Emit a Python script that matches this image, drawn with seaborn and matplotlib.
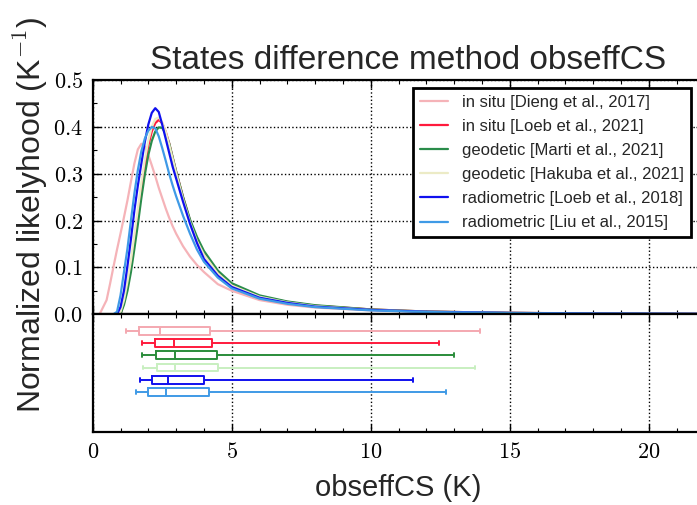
import numpy as np
import pandas as pd
import matplotlib
matplotlib.use("Agg")
import matplotlib.pyplot as plt
from matplotlib.ticker import MultipleLocator, FuncFormatter
import seaborn as sns

# ---------------- data ----------------
labels = [
    "in situ [Dieng et al., 2017]",
    "in situ [Loeb et al., 2021]",
    "geodetic [Marti et al., 2021]",
    "geodetic [Hakuba et al., 2021]",
    "radiometric [Loeb et al., 2018]",
    "radiometric [Liu et al., 2015]",
]

x_grid = [0, 0.25, 0.5, 0.625, 0.75, 0.875, 1.0, 1.125, 1.25, 1.375, 1.5, 1.625,
          1.75, 1.875, 2.0, 2.125, 2.25, 2.375, 2.5, 2.625, 2.75, 2.875, 3.0,
          3.25, 3.5, 3.75, 4.0, 4.5, 5, 6, 7, 8, 10, 12, 15, 18, 22]

pdf_dieng = [0, 0, 0.03, 0.065, 0.102, 0.138, 0.172, 0.207, 0.243, 0.283, 0.322, 0.352,
             0.364, 0.358, 0.340, 0.318, 0.295, 0.27, 0.248, 0.226, 0.206, 0.188, 0.172,
             0.145, 0.123, 0.105, 0.09, 0.064, 0.05, 0.03, 0.02, 0.014, 0.008, 0.005,
             0.0028, 0.0015, 0.0007]
pdf_loeb21 = [0, 0, 0, 0, 0, 0, 0, 0.025, 0.06, 0.10, 0.155, 0.205,
              0.265, 0.318, 0.36, 0.39, 0.408, 0.415, 0.408, 0.39, 0.365, 0.335, 0.305,
              0.25, 0.2, 0.16, 0.13, 0.089, 0.063, 0.038, 0.026, 0.018, 0.010, 0.0055,
              0.0027, 0.0013, 0.0005]
pdf_marti = [0, 0, 0, 0, 0, 0, 0, 0.02, 0.05, 0.09, 0.14, 0.192,
             0.248, 0.298, 0.34, 0.37, 0.39, 0.399, 0.398, 0.385, 0.365, 0.335, 0.305,
             0.25, 0.202, 0.165, 0.135, 0.093, 0.066, 0.04, 0.027, 0.019, 0.010, 0.0055,
             0.0027, 0.0013, 0.0005]
pdf_hakuba = [0, 0, 0, 0, 0, 0, 0.005, 0.03, 0.07, 0.115, 0.17, 0.225,
              0.28, 0.33, 0.37, 0.40, 0.417, 0.42, 0.41, 0.39, 0.362, 0.332, 0.302,
              0.245, 0.196, 0.156, 0.127, 0.087, 0.061, 0.037, 0.025, 0.017, 0.009, 0.005,
              0.0025, 0.0012, 0.0005]
pdf_loeb18 = [0, 0, 0, 0, 0, 0, 0.015, 0.05, 0.103, 0.16, 0.222, 0.275,
              0.322, 0.368, 0.405, 0.43, 0.44, 0.432, 0.405, 0.375, 0.345, 0.315, 0.29,
              0.24, 0.193, 0.152, 0.118, 0.082, 0.058, 0.035, 0.024, 0.016, 0.009, 0.005,
              0.0025, 0.0012, 0.0005]
pdf_liu = [0, 0, 0, 0, 0, 0.005, 0.04, 0.09, 0.14, 0.20, 0.258, 0.308,
           0.348, 0.375, 0.392, 0.40, 0.397, 0.38, 0.355, 0.328, 0.30, 0.275, 0.252,
           0.21, 0.172, 0.138, 0.112, 0.078, 0.055, 0.033, 0.022, 0.015, 0.008, 0.0045,
           0.0022, 0.001, 0.0004]

# five-number summaries (min, q1, median, q3, max)
box_dieng = [1.19, 1.67, 2.43, 4.23, 13.92]
box_loeb21 = [1.78, 2.25, 2.91, 4.30, 12.46]
box_marti = [1.78, 2.29, 2.96, 4.47, 12.99]
box_hakuba = [1.81, 2.30, 2.95, 4.50, 13.74]
box_loeb18 = [1.69, 2.12, 2.72, 4.02, 11.52]
box_liu = [1.57, 2.00, 2.65, 4.19, 12.72]

xticks = [0, 5, 10, 15, 20]
yticks = [0.0, 0.1, 0.2, 0.3, 0.4, 0.5]

# ---------------- styling ----------------
line_colors = ["#f5b3b8", "#ff1a3c", "#2a8c4a", "#ecebc6", "#1010ee", "#3f9ae6"]
box_colors = ["#f4a8b0", "#ff1a3c", "#2a8c3a", "#c8efc0", "#1010ee", "#3f9ae6"]

sns.set_style("ticks")
plt.rcParams["font.family"] = ["Liberation Sans", "DejaVu Sans"]
plt.rcParams["mathtext.fontset"] = "cm"

pdfs = [pdf_dieng, pdf_loeb21, pdf_marti, pdf_hakuba, pdf_loeb18, pdf_liu]
df_pdf = pd.concat(
    [pd.DataFrame({"x": x_grid, "pdf": p, "dataset": lab}) for lab, p in zip(labels, pdfs)],
    ignore_index=True,
)
boxes = [box_dieng, box_loeb21, box_marti, box_hakuba, box_loeb18, box_liu]
df_box = pd.concat(
    [pd.DataFrame({"value": b, "dataset": lab}) for lab, b in zip(labels, boxes)],
    ignore_index=True,
)

fig = plt.figure(figsize=(6.97, 5.05), dpi=100)
W = 0.8775
ax1 = fig.add_axes([0.133, 0.378, W, 0.4634])
ax2 = fig.add_axes([0.133, 0.1446, W, 0.2337], sharex=ax1)

sns.lineplot(data=df_pdf, x="x", y="pdf", hue="dataset", hue_order=labels,
             palette=dict(zip(labels, line_colors)), linewidth=1.6,
             errorbar=None, ax=ax1)

sns.boxplot(data=df_box, x="value", y="dataset", hue="dataset", order=labels,
            hue_order=labels, palette=dict(zip(labels, box_colors)), fill=False,
            whis=(0, 100), width=0.65, linewidth=1.4, legend=False, ax=ax2)

# axes limits / ticks
ax1.set_xlim(0, 22)
ax1.set_ylim(0, 0.5)
ax1.set_yticks(yticks)
ax1.yaxis.set_minor_locator(MultipleLocator(0.05))
ax1.xaxis.set_major_locator(MultipleLocator(5))
ax1.xaxis.set_minor_locator(MultipleLocator(1))
ax1.yaxis.set_major_formatter(FuncFormatter(lambda v, p: r"$%.1f$" % v))
ax1.tick_params(labelbottom=False)
ax2.set_xticks(xticks)
ax2.xaxis.set_minor_locator(MultipleLocator(1))
ax2.xaxis.set_major_formatter(FuncFormatter(lambda v, p: r"$%d$" % v))
ax2.set_ylim(8.25, -1.36)
ax2.set_yticks([])
ax2.set_ylabel("")

for ax in (ax1, ax2):
    for s in ax.spines.values():
        s.set_linewidth(1.6)
        s.set_color("black")
    ax.tick_params(which="both", direction="in", top=True, bottom=True,
                   left=True, right=True, colors="black", labelsize=16, pad=7)
    ax.tick_params(which="major", length=6, width=1)
    ax.tick_params(which="minor", length=3, width=0.8)
    ax.grid(True, which="major", axis="x", linestyle=":", color="black", linewidth=1)
ax1.grid(True, which="major", axis="y", linestyle=":", color="black", linewidth=1)
ax2.tick_params(axis="y", which="both", left=False, right=False)

ax1.set_title("States difference method obseffCS", fontsize=24, pad=8, x=0.515)
ax1.set_xlabel("")
ax1.set_ylabel(r"Normalized likelyhood (K$^{-1}$)", fontsize=23)
ax1.yaxis.set_label_coords(-0.07, 0.423)
ax2.set_xlabel("obseffCS (K)", fontsize=21, labelpad=8)

handles, labs = ax1.get_legend_handles_labels()
leg = ax1.legend(handles, labs, loc="upper right",
                 bbox_to_anchor=(691 / 697, 1 - 88 / 505),
                 bbox_transform=fig.transFigure, borderaxespad=0,
                 frameon=True, fancybox=False, framealpha=1, edgecolor="black",
                 fontsize=12, handlelength=1.7, handletextpad=0.85,
                 labelspacing=0.55)
leg.get_frame().set_linewidth(2)

fig.savefig("out.png", dpi=100)
